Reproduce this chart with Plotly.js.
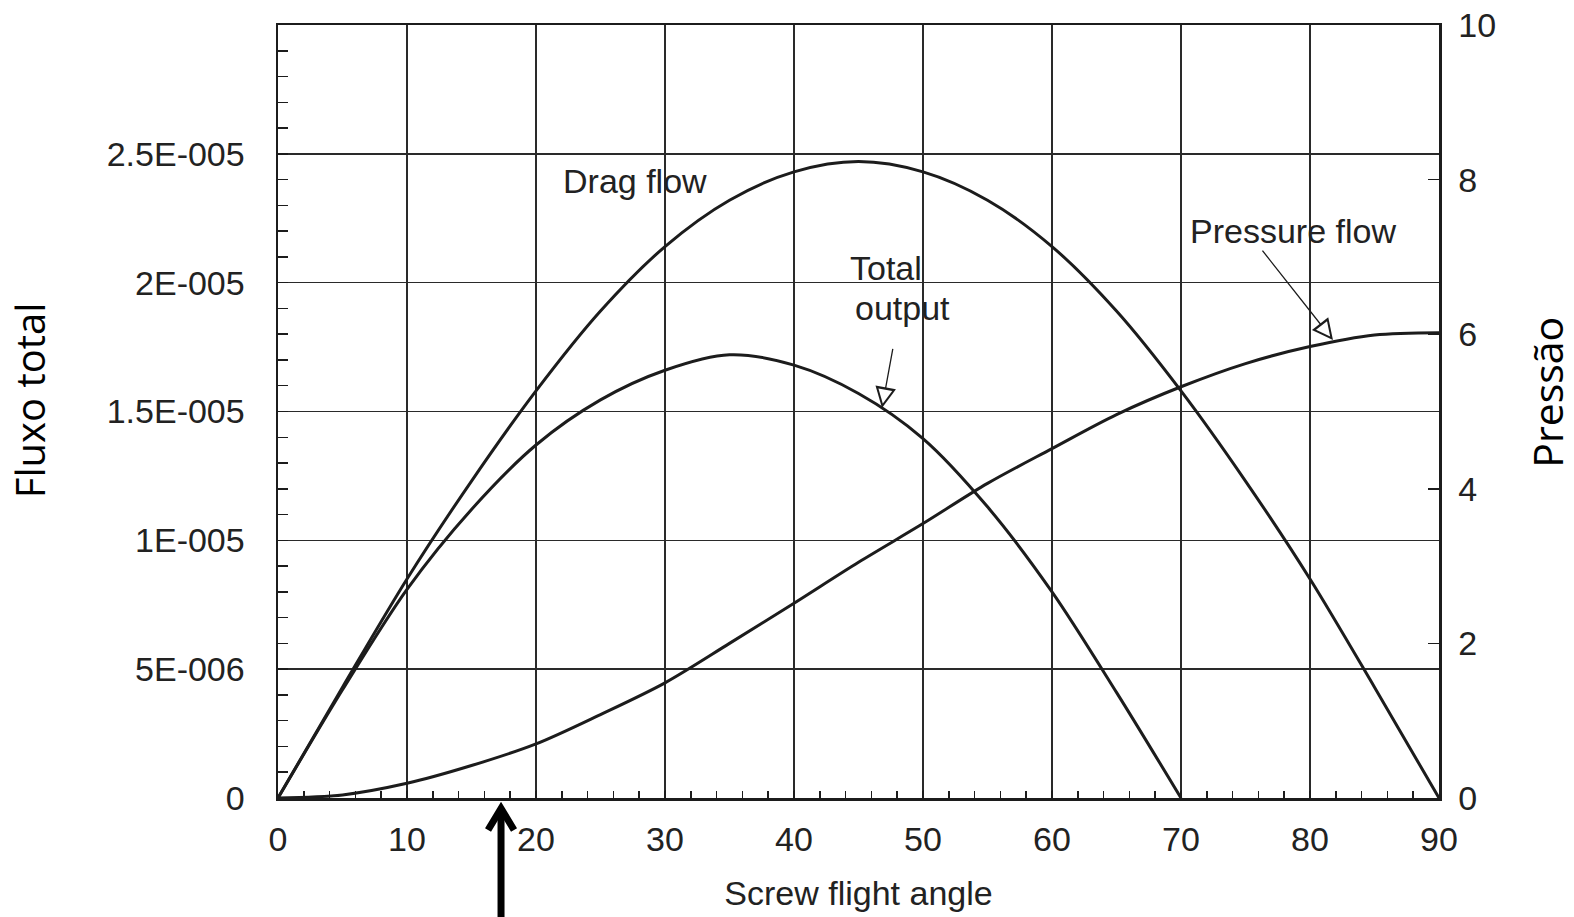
<!DOCTYPE html>
<html>
<head>
<meta charset="utf-8">
<script src="https://cdn.plot.ly/plotly-3.0.1.min.js"></script>
<style>html,body{margin:0;padding:0;background:#fff;}#chart{width:1574px;height:917px;}</style>
</head>
<body>
<div id="chart"></div>
<script>
// ---- data ----
const angle = [0, 5, 10, 15, 20, 25, 30, 35, 40, 45, 50, 55, 60, 65, 70, 75, 80, 85, 90];
const dragFlow = [0, 4.3e-6, 8.5e-6, 12.3e-6, 15.8e-6, 18.9e-6, 21.4e-6, 23.2e-6, 24.3e-6, 24.7e-6, 24.3e-6, 23.2e-6, 21.4e-6, 18.9e-6, 15.8e-6, 12.3e-6, 8.5e-6, 4.3e-6, 0];
const totalAngle = [0, 5, 10, 15, 20, 25, 30, 35, 40, 45, 50, 55, 60, 65, 70];
const totalOutput = [0, 4.2e-6, 8.1e-6, 11.2e-6, 13.7e-6, 15.45e-6, 16.6e-6, 17.2e-6, 16.8e-6, 15.7e-6, 13.95e-6, 11.3e-6, 8.0e-6, 4.1e-6, 0];
const pressureFlow = [0, 0.04, 0.19, 0.42, 0.70, 1.08, 1.49, 2.0, 2.52, 3.05, 3.55, 4.07, 4.52, 4.96, 5.32, 5.62, 5.84, 5.99, 6.02];

const xTickVals = [0, 10, 20, 30, 40, 50, 60, 70, 80, 90];
const leftTickVals = [0, 5e-6, 1e-5, 1.5e-5, 2e-5, 2.5e-5];
const leftTickText = ['0', '5E-006', '1E-005', '1.5E-005', '2E-005', '2.5E-005'];
const rightTickVals = [0, 2, 4, 6, 8, 10];
const rightTickText = ['0', '2', '4', '6', '8', '10'];

const INK = '#1c1c1c';
const tickFont = {family: 'Liberation Sans, Arial, sans-serif', size: 34, color: '#222'};
const lineStyle = {color: INK, width: 3, shape: 'spline', smoothing: 0.9};

const traces = [
  {x: angle, y: dragFlow, name: 'Drag flow', type: 'scatter', mode: 'lines', line: lineStyle, yaxis: 'y'},
  {x: totalAngle, y: totalOutput, name: 'Total output', type: 'scatter', mode: 'lines', line: lineStyle, yaxis: 'y'},
  {x: angle, y: pressureFlow, name: 'Pressure flow', type: 'scatter', mode: 'lines', line: lineStyle, yaxis: 'y2'}
];

function openArrow(x, y, yref, ax, ay) {
  const len = Math.sqrt(ax * ax + ay * ay);
  const ux = ax / len, uy = ay / len;
  return [
    {x: x, y: y, xref: 'x', yref: yref, text: ' ', font: {size: 1}, borderpad: 0,
     showarrow: true, ax: ax, ay: ay, arrowhead: 2, arrowsize: 3.2, arrowwidth: 1.3, arrowcolor: INK},
    {x: x, y: y, xref: 'x', yref: yref, text: ' ', font: {size: 1}, borderpad: 0,
     showarrow: true, ax: ux * 17, ay: uy * 17, arrowhead: 2, arrowsize: 2.15, arrowwidth: 1.3,
     arrowcolor: '#ffffff', standoff: 4.5}
  ];
}

const labelFont = {family: 'Liberation Sans, Arial, sans-serif', size: 34, color: '#222'};
const sideFont = {family: 'Open Sans, sans-serif', size: 40, color: '#000'};

const annotations = [
  {x: 27.67, y: 23.93e-6, xref: 'x', yref: 'y', text: 'Drag flow', showarrow: false, font: labelFont, xanchor: 'center', yanchor: 'middle'},
  {x: 47.13, y: 20.57e-6, xref: 'x', yref: 'y', text: 'Total', showarrow: false, font: labelFont, xanchor: 'center', yanchor: 'middle'},
  {x: 48.41, y: 19.0e-6, xref: 'x', yref: 'y', text: 'output', showarrow: false, font: labelFont, xanchor: 'center', yanchor: 'middle'},
  {x: 78.68, y: 22.01e-6, xref: 'x', yref: 'y', text: 'Pressure flow', showarrow: false, font: labelFont, xanchor: 'center', yanchor: 'middle'},
  {x: -0.2133, y: 0.515, xref: 'paper', yref: 'paper', text: 'Fluxo total', textangle: -90, showarrow: false, font: sideFont, xanchor: 'center', yanchor: 'middle'},
  {x: 1.0935, y: 0.525, xref: 'paper', yref: 'paper', text: 'Pressão', textangle: -90, showarrow: false, font: {family: 'Open Sans, sans-serif', size: 41, color: '#000'}, xanchor: 'center', yanchor: 'middle'}
].concat(openArrow(46.82, 15.14e-6, 'y', 11, -60))
 .concat(openArrow(81.78, 5.925, 'y2', -71, -90));

const shapes = [
  {type: 'line', xref: 'paper', yref: 'paper', x0: 0.1921, x1: 0.1921, y0: -0.16, y1: -0.02,
   line: {color: '#000', width: 7}},
  {type: 'path', xref: 'paper', yref: 'paper', path: 'M 0.1809 -0.0414 L 0.1921 -0.0135 L 0.2033 -0.0414',
   line: {color: '#000', width: 7}}
];

const layout = {
  width: 1574, height: 917,
  margin: {l: 278, r: 135, t: 25, b: 119},
  paper_bgcolor: '#fff', plot_bgcolor: '#fff',
  showlegend: false,
  xaxis: {
    range: [0, 90], tickmode: 'array', tickvals: xTickVals,
    showgrid: true, gridcolor: '#2a2a2a', gridwidth: 1.5, zeroline: false,
    showline: true, linecolor: INK, linewidth: 2.5, mirror: true,
    ticks: 'inside', ticklen: 8, tickcolor: INK, tickfont: tickFont, ticklabelstandoff: 10,
    minor: {dtick: 2, tick0: 0, ticks: 'inside', ticklen: 7, tickcolor: INK, tickwidth: 1.5, showgrid: false},
    title: {text: 'Screw flight angle', font: {family: 'Liberation Sans, Arial, sans-serif', size: 34, color: '#222'}, standoff: 24},
    fixedrange: true
  },
  yaxis: {
    range: [0, 3.0e-5], tickmode: 'array', tickvals: leftTickVals, ticktext: leftTickText,
    showgrid: true, gridcolor: '#2a2a2a', gridwidth: 1.5, zeroline: false,
    showline: true, linecolor: INK, linewidth: 2.5,
    ticks: 'inside', ticklen: 10, tickcolor: INK, tickfont: tickFont, ticklabelstandoff: 24,
    minor: {dtick: 1e-6, tick0: 0, ticks: 'inside', ticklen: 10, tickcolor: INK, tickwidth: 1.5, showgrid: false},
    fixedrange: true
  },
  yaxis2: {
    overlaying: 'y', side: 'right', range: [0, 10],
    tickmode: 'array', tickvals: rightTickVals, ticktext: rightTickText,
    showgrid: false, zeroline: false,
    showline: true, linecolor: INK, linewidth: 2.5,
    ticks: 'inside', ticklen: 11, tickcolor: INK, tickwidth: 1.5, tickfont: tickFont, ticklabelstandoff: 10,
    fixedrange: true
  },
  annotations: annotations,
  shapes: shapes
};

Plotly.newPlot('chart', traces, layout, {displayModeBar: false, staticPlot: true});
</script>
</body>
</html>
